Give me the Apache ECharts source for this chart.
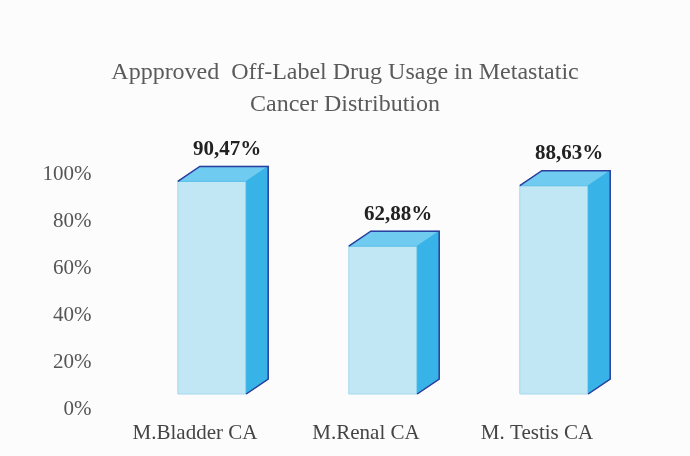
<!DOCTYPE html>
<html>
<head>
<meta charset="utf-8">
<title>Off-Label Drug Usage</title>
<script src="https://cdn.jsdelivr.net/npm/echarts@6/dist/echarts.min.js"></script>
<style>
  html, body { margin: 0; padding: 0; background: #fcfcfc; }
  #chart { width: 690px; height: 456px; }
</style>
</head>
<body>
<div id="chart"></div>
<script>
  // data
  var categories = ['M.Bladder CA', 'M.Renal CA', 'M. Testis CA']
  var usage = [90.47, 62.88, 88.63]
  var valueLabels = ['90,47%', '62,88%', '88,63%']
  var yTicks = [0, 20, 40, 60, 80, 100]

  var serif = '"Liberation Serif", "DejaVu Serif", serif'
  // 3d look of the boxes
  var depthX = 22
  var depthY = -15
  var shiftX = 17
  var shiftY = -15

  function renderBox (params, api) {
    var idx = api.value(0)
    var base = api.coord([idx, 0])
    var top = api.coord([idx, api.value(1)])
    var bw = api.size([1, 0])[0] * 0.4
    var cx = base[0] + shiftX
    var yb = base[1] + shiftY
    var yt = top[1] + shiftY
    var l = cx - bw / 2
    var r = cx + bw / 2
    return {
      type: 'group',
      children: [
        {
          type: 'rect',
          shape: { x: l, y: yt, width: bw, height: yb - yt },
          style: { fill: '#c2e7f4', stroke: '#a3d9ee', lineWidth: 1 }
        },
        {
          type: 'polygon',
          shape: { points: [[l, yt], [l + depthX, yt + depthY], [r + depthX, yt + depthY], [r, yt]] },
          style: { fill: '#6fcbf0', stroke: '#5fc0ea', lineWidth: 1 }
        },
        {
          type: 'polygon',
          shape: { points: [[r, yt], [r + depthX, yt + depthY], [r + depthX, yb + depthY], [r, yb]] },
          style: { fill: '#37b3e7', stroke: '#37b3e7', lineWidth: 1 }
        },
        {
          type: 'polyline',
          shape: { points: [[l, yt], [l + depthX, yt + depthY], [r + depthX, yt + depthY], [r + depthX, yb + depthY], [r, yb]] },
          style: { fill: null, stroke: '#2c3e9e', lineWidth: 1.5 }
        },
        {
          type: 'text',
          style: {
            text: valueLabels[params.dataIndex],
            x: cx + depthX / 2 + 4,
            y: yt + depthY - 17,
            align: 'center',
            verticalAlign: 'middle',
            font: 'bold 21px ' + serif,
            fill: '#222'
          }
        }
      ]
    }
  }

  var chart = echarts.init(document.getElementById('chart'))
  var option = {
    backgroundColor: '#fcfcfc',
    animation: false,
    title: {
      text: 'Appproved  Off-Label Drug Usage in Metastatic\nCancer Distribution',
      left: 'center',
      top: 52,
      textStyle: {
        fontFamily: serif,
        fontSize: 24,
        fontWeight: 'normal',
        color: '#5a5a5a',
        lineHeight: 32,
        align: 'center'
      }
    },
    grid: {
      left: 109.5,
      right: 67.5,
      top: 174,
      bottom: 47
    },
    xAxis: {
      type: 'category',
      data: categories,
      axisLine: { show: false },
      axisTick: { show: false },
      axisLabel: {
        margin: 14,
        fontFamily: serif,
        fontSize: 21,
        color: '#444'
      }
    },
    yAxis: {
      type: 'value',
      min: yTicks[0],
      max: yTicks[yTicks.length - 1],
      interval: 20,
      axisLine: { show: false },
      axisTick: { show: false },
      splitLine: { show: false },
      axisLabel: {
        margin: 18,
        formatter: '{value}%',
        fontFamily: serif,
        fontSize: 21,
        color: '#555'
      }
    },
    series: [{
      type: 'custom',
      renderItem: renderBox,
      encode: { x: 0, y: 1 },
      data: usage.map(function (v, i) { return [i, v] })
    }]
  }
  chart.setOption(option)
</script>
</body>
</html>
